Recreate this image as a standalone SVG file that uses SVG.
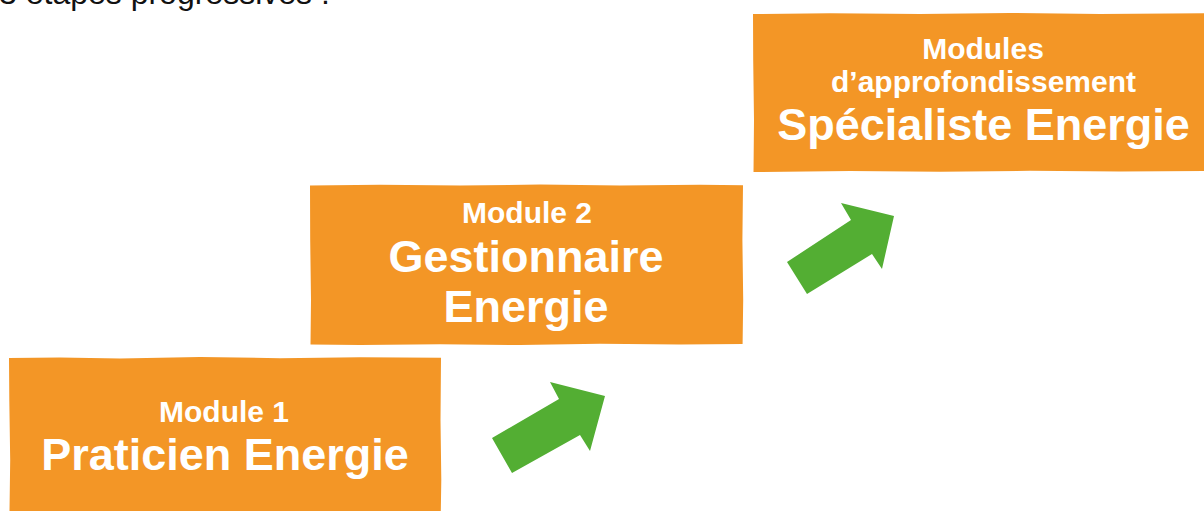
<svg xmlns="http://www.w3.org/2000/svg" width="1204" height="511" viewBox="0 0 1204 511">
<style>
.box{fill:#F39626}
.arrow{fill:#53AE33}
.t{font-family:"Liberation Sans",Arial,sans-serif;font-weight:bold;fill:#fff;text-anchor:middle}
.s{font-size:30px}
.b{font-size:45px}
.top{font-family:"Liberation Sans",Arial,sans-serif;font-size:32px;fill:#111}
</style>
<rect width="1204" height="511" fill="#fff"/>
<text class="top" x="-1" y="4">3 étapes progressives :</text>
<g id="node1">
<path class="box" d="M9,358 L60,357.5 L120,358.5 L200,357 L280,358.2 L360,357.3 L441,357.8 L440.5,420 L441.3,480 L440.8,511 L9.5,511 L10.2,460 L9.3,400 Z"/>
<text class="t s" x="224" y="422">Module 1</text>
<text class="t b" x="225" y="470">Praticien Energie</text>
</g>
<g id="node2">
<path class="box" d="M310,185.5 L380,184.8 L460,185.6 L540,184.5 L620,185.4 L700,184.7 L743,185.2 L742.4,240 L743.2,300 L742.6,344 L680,344.6 L600,343.8 L520,345 L440,344.2 L360,345 L310.5,344.5 L311,300 L310.2,240 Z"/>
<text class="t s" x="527" y="223">Module 2</text>
<text class="t b" x="526" y="272">Gestionnaire</text>
<text class="t b" x="526" y="322">Energie</text>
</g>
<g id="node3">
<path class="box" d="M753,14 L830,13.2 L920,14.1 L1010,13 L1100,14 L1204,13.3 L1204,171 L1120,171.6 L1030,170.8 L940,171.8 L850,171 L753.5,172 L754,120 L753.2,60 Z"/>
<text class="t s" x="983" y="59">Modules</text>
<text class="t s" x="983.5" y="92">d’approfondissement</text>
<text class="t b" x="983.5" y="140">Spécialiste Energie</text>
</g>
<g id="connectors">
<polygon class="arrow" points="492,438 559,399 550,382 605,396 590,451 580,435 512,473"/>
<polygon class="arrow" points="787,262 851,220 841,203 894,216 882,269 872,254 807,294"/>
</g>
</svg>
